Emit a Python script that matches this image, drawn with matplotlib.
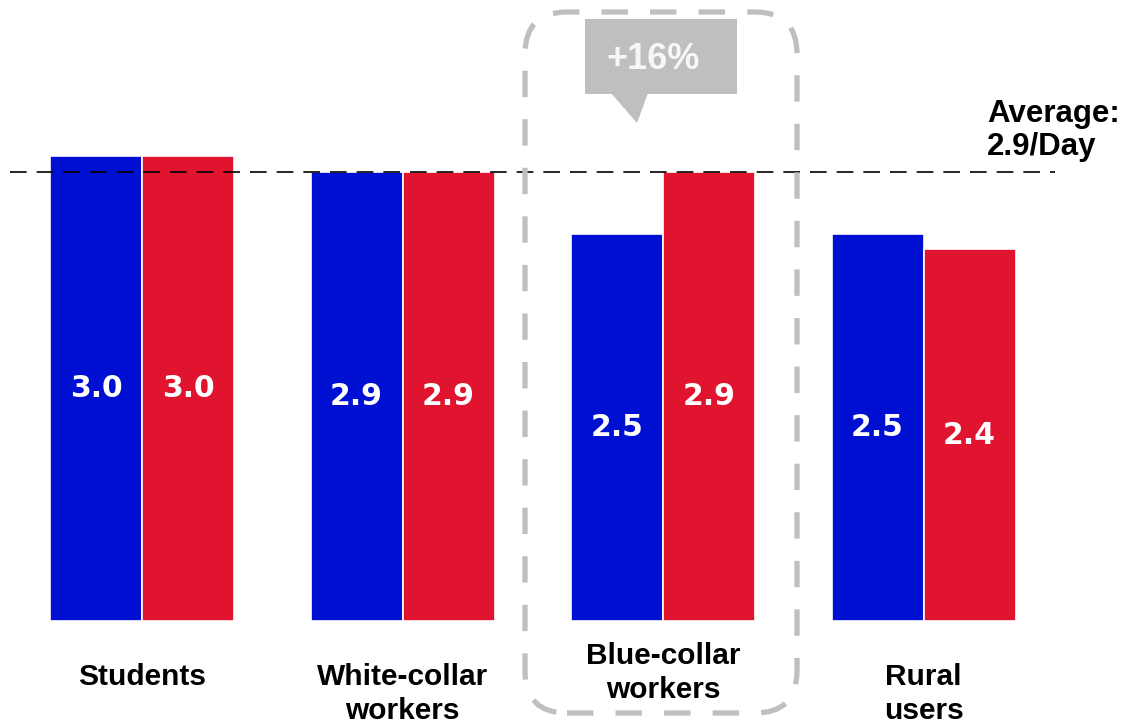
import numpy as np
import matplotlib
matplotlib.use('Agg')
import matplotlib.pyplot as plt
from matplotlib.patches import FancyBboxPatch, Rectangle, Polygon

# daily usage per user group, two series
groups = ['Students', 'White-collar\nworkers', 'Blue-collar\nworkers', 'Rural\nusers']
blue_vals = [3.0, 2.9, 2.5, 2.5]
red_vals = [3.0, 2.9, 2.9, 2.4]
average = 2.9
growth_label = '+16%'

blue = '#0010D2'
red = '#E0142E'
grey = '#BFBFBF'
lab_font = 'Liberation Sans'

fig = plt.figure(figsize=(11.22, 7.24), dpi=100)
ax = fig.add_axes([0, 0, 1, 1])
ax.set_xlim(-142 / 260.5, (1122 - 142) / 260.5)
ax.set_ylim(-103 / 155, 621 / 155)
ax.axis('off')

x = np.arange(len(groups))
w = 92 / 260.5
ax.bar(x - w / 2, blue_vals, w, color=blue, edgecolor='white', linewidth=1.2, zorder=3)
ax.bar(x + w / 2, red_vals, w, color=red, edgecolor='white', linewidth=1.2, zorder=3)

# values in the middle of each bar
for i in range(len(groups)):
    ax.text(x[i] - w / 2, blue_vals[i] / 2, '%.1f' % blue_vals[i], color='white',
            fontsize=21.5, fontweight='bold', family='DejaVu Sans',
            ha='center', va='center', zorder=4)
    ax.text(x[i] + w / 2, red_vals[i] / 2, '%.1f' % red_vals[i], color='white',
            fontsize=21.5, fontweight='bold', family='DejaVu Sans',
            ha='center', va='center', zorder=4)

# group names under the bars (highlighted one sits a bit higher)
for i, g in enumerate(groups):
    ytop = -0.135 if i == 2 else -0.27
    ax.text(x[i], ytop, g, fontsize=21.5, fontweight='bold', family=lab_font,
            ha='center', va='top', linespacing=1.26)

# average line and its label
ax.axhline(average, xmin=10 / 1122, xmax=1055 / 1122, color='black',
           linewidth=1.2, dashes=(10, 6), zorder=5)
fig.text(9.87, 5.62, 'Average:\n%.1f/Day' % average, transform=fig.dpi_scale_trans,
         fontsize=22.5, fontweight='bold', family=lab_font, ha='left', va='bottom',
         linespacing=1.15)

# dashed frame around blue-collar group
frame = FancyBboxPatch((5.25, 0.11), 2.72, 7.01, boxstyle='round,pad=0,rounding_size=0.42',
                       transform=fig.dpi_scale_trans, fill=False, edgecolor=grey,
                       linewidth=3.8, linestyle=(0, (5, 4.2)), zorder=6)
fig.patches.append(frame)

# callout with the growth figure
box = Rectangle((5.85, 6.30), 1.52, 0.75, transform=fig.dpi_scale_trans,
                facecolor=grey, edgecolor='none')
tip = Polygon([(6.11, 6.31), (6.48, 6.31), (6.37, 6.01)], closed=True,
              transform=fig.dpi_scale_trans, facecolor=grey, edgecolor='none')
fig.patches.append(box)
fig.patches.append(tip)
fig.text(6.53, 6.645, growth_label, transform=fig.dpi_scale_trans, color='#F7F7F7',
         fontsize=26, fontweight='bold', family=lab_font, ha='center', va='center')

fig.savefig('out.png', dpi=100, facecolor='white')
